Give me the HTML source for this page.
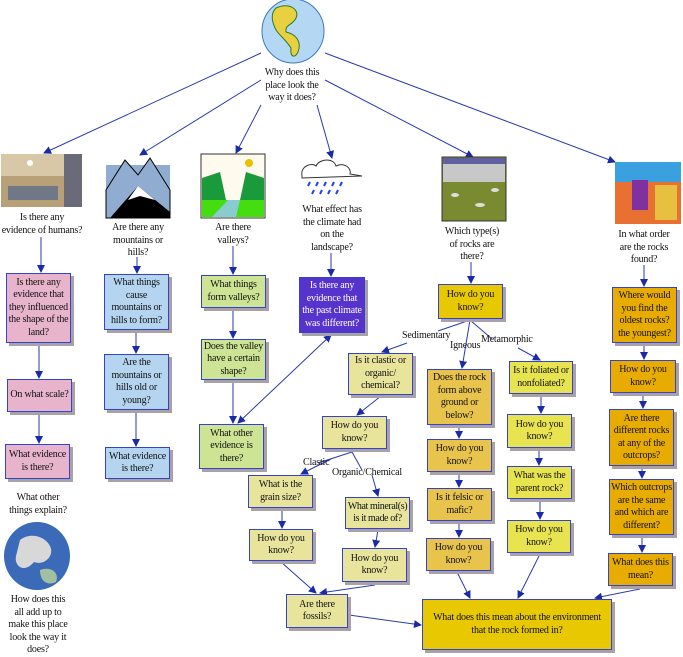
<!DOCTYPE html>
<html><head><meta charset="utf-8"><style>
body{margin:0;width:683px;height:654px;background:#fff;position:relative;overflow:hidden;font-family:"Liberation Serif",serif;font-size:10px;color:#111}
.b{position:absolute;box-sizing:border-box;border:1px solid #3344cc;box-shadow:3px 3px 0 #a9a0a8;display:flex;align-items:center;justify-content:center;text-align:center;line-height:12.5px;padding:0 1px;letter-spacing:-0.2px}
.t{position:absolute;text-align:center;line-height:12.5px;letter-spacing:-0.2px}
.pk{background:#e8b4cc}.bl{background:#b4d4f0}.gr{background:#cce494}.pu{background:#5533cc;color:#fff}
.y1{background:#e8c800}.py{background:#e8e49c}.ig{background:#e8c44c}.me{background:#e8e450}.or{background:#e8ac00}
svg{position:absolute;left:0;top:0}
</style></head><body>
<svg width="683" height="654">
<defs><marker id="a" markerWidth="8" markerHeight="8" refX="7" refY="4" orient="auto-start-reverse" markerUnits="userSpaceOnUse"><path d="M0,0 L8,4 L0,8 Z" fill="#1a2aa8"/></marker></defs>
<g stroke="#2a3ab0" stroke-width="1" fill="none" marker-end="url(#a)">
<line x1="261" y1="53" x2="44" y2="153"/>
<line x1="261" y1="80" x2="140" y2="155"/>
<line x1="261" y1="105" x2="236" y2="153"/>
<line x1="317" y1="105" x2="332" y2="158"/>
<line x1="325" y1="80" x2="473" y2="157"/>
<line x1="325" y1="53" x2="615" y2="162"/>
<line x1="41" y1="237" x2="41" y2="272"/>
<line x1="39" y1="344" x2="39" y2="378"/>
<line x1="39" y1="413" x2="39" y2="443"/>
<line x1="137" y1="257" x2="137" y2="273"/>
<line x1="136" y1="331" x2="136" y2="353"/>
<line x1="136" y1="411" x2="136" y2="446"/>
<line x1="233" y1="246" x2="233" y2="274"/>
<line x1="233" y1="309" x2="233" y2="338"/>
<line x1="233" y1="381" x2="233" y2="423"/>
<line x1="331" y1="253" x2="331" y2="276"/>
<line x1="471" y1="262" x2="471" y2="283"/>
<line x1="644" y1="265" x2="644" y2="286"/>
<line x1="644" y1="344" x2="644" y2="359"/>
<line x1="643" y1="394" x2="643" y2="408"/>
<line x1="642" y1="467" x2="642" y2="478"/>
<line x1="642" y1="536" x2="642" y2="552"/>
<line x1="459" y1="426" x2="459" y2="438"/>
<line x1="459" y1="473" x2="459" y2="487"/>
<line x1="459" y1="522" x2="459" y2="537"/>
<line x1="541" y1="394" x2="541" y2="413"/>
<line x1="539" y1="449" x2="539" y2="465"/>
<line x1="540" y1="500" x2="540" y2="519"/>
<line x1="407" y1="343" x2="382" y2="352"/>
<line x1="470" y1="320" x2="462" y2="368"/>
<line x1="518" y1="348" x2="540" y2="360"/>
<line x1="381" y1="396" x2="357" y2="415"/>
<line x1="331" y1="459" x2="301" y2="474"/>
<line x1="372" y1="475" x2="378" y2="496"/>
<line x1="282" y1="509" x2="282" y2="528"/>
<line x1="378" y1="530" x2="375" y2="547"/>
<line x1="281" y1="562" x2="316" y2="593"/>
<line x1="375" y1="585" x2="320" y2="593"/>
<line x1="349" y1="615" x2="421" y2="625"/>
<line x1="457" y1="572" x2="470" y2="598"/>
<line x1="540" y1="554" x2="518" y2="598"/>
<line x1="640" y1="589" x2="595" y2="598"/>
<line x1="238" y1="423" x2="331" y2="335" marker-start="url(#a)"/>
</g>
<g stroke="#2a3ab0" fill="none"><line x1="470" y1="320" x2="438" y2="331"/><line x1="470" y1="320" x2="492" y2="339"/><line x1="352" y1="452" x2="318" y2="463"/><line x1="352" y1="452" x2="362" y2="470"/></g>
<ellipse cx="293" cy="31" rx="31" ry="32" fill="#b4d8f4" stroke="#3a7ac0"/>
<path d="M276,8 C290,2 300,10 296,18 C292,26 285,24 286,32 C296,34 302,42 298,52 C295,58 290,58 291,48 C286,40 280,36 276,30 C272,22 270,14 276,8Z" fill="#e8d040" stroke="#2a7a2a"/>
<rect x="1" y="154" width="81" height="53" fill="#b8a078"/><rect x="1" y="154" width="81" height="22" fill="#d8c8a8"/><rect x="64" y="154" width="18" height="53" fill="#6a6a78"/><rect x="8" y="186" width="50" height="14" fill="#707888"/><circle cx="30" cy="163" r="3" fill="#fff"/>
<rect x="106" y="165" width="64" height="53" fill="#90acd0"/><path d="M106,218 L106,190 L125,160 L138,175 L150,158 L170,190 L170,218Z" fill="#90acd0" stroke="#000"/><path d="M110,218 L138,186 L170,212 L170,218Z" fill="#000"/><path d="M128,200 L138,186 L155,200 L140,196Z" fill="#fff"/>
<rect x="201" y="154" width="64" height="64" fill="#fffaee" stroke="#333"/><circle cx="249" cy="163" r="4" fill="#e8c000"/><path d="M202,178 L220,172 L226,200 L202,200Z" fill="#1a9a3a"/><path d="M264,178 L246,172 L240,200 L264,200Z" fill="#1a9a3a"/><rect x="202" y="200" width="62" height="17" fill="#44dd10"/><path d="M228,200 L240,200 L236,217 L212,217Z" fill="#88ccd0"/>
<path d="M302,176 C300,166 312,162 316,166 C320,158 334,158 336,166 C344,162 352,168 350,174 L362,176 L302,178Z" fill="#fff" stroke="#333"/>
<g stroke="#2244ee" stroke-width="2"><line x1="310" y1="182" x2="308" y2="186"/><line x1="318" y1="182" x2="316" y2="186"/><line x1="326" y1="182" x2="324" y2="186"/><line x1="334" y1="182" x2="332" y2="186"/><line x1="342" y1="182" x2="340" y2="186"/><line x1="314" y1="190" x2="312" y2="194"/><line x1="322" y1="190" x2="320" y2="194"/><line x1="330" y1="190" x2="328" y2="194"/><line x1="338" y1="190" x2="336" y2="194"/></g>
<rect x="442" y="157" width="64" height="64" fill="#7a8a30" stroke="#333"/><rect x="443" y="158" width="62" height="24" fill="#c8c8c8"/><rect x="443" y="158" width="62" height="6" fill="#6060a0"/>
<ellipse cx="455" cy="195" rx="4" ry="2" fill="#ddd"/><ellipse cx="480" cy="205" rx="5" ry="2" fill="#ddd"/><ellipse cx="495" cy="190" rx="4" ry="2" fill="#ddd"/>
<rect x="615" y="162" width="66" height="62" fill="#e87030"/><rect x="615" y="162" width="66" height="20" fill="#3aa0e0"/><rect x="632" y="180" width="16" height="30" fill="#8030a0"/><rect x="655" y="185" width="22" height="35" fill="#e8c040"/>
<ellipse cx="37" cy="556" rx="33" ry="34" fill="#3a6ab8"/><path d="M20,540 C30,532 45,536 50,546 C55,556 44,566 34,562 C24,574 14,566 16,556Z" fill="#d8d8d8"/><path d="M40,570 C50,566 60,572 56,582 C48,586 40,582 40,570Z" fill="#a0c0a0"/>
</svg>
<div class="t" style="left:252px;top:67px;width:80px">Why does this<br>place look the<br>way it does?</div>
<div class="t" style="left:0;top:212px;width:84px">Is there any<br>evidence of humans?</div>
<div class="t" style="left:100px;top:222px;width:76px">Are there any<br>mountains or<br>hills?</div>
<div class="t" style="left:195px;top:222px;width:76px">Are there<br>valleys?</div>
<div class="t" style="left:292px;top:204px;width:80px">What effect has<br>the climate had<br>on the<br>landscape?</div>
<div class="t" style="left:434px;top:226px;width:76px">Which type(s)<br>of rocks are<br>there?</div>
<div class="t" style="left:606px;top:229px;width:76px">In what order<br>are the rocks<br>found?</div>
<div class="t" style="left:0;top:492px;width:76px">What other<br>things explain?</div>
<div class="t" style="left:0;top:594px;width:76px">How does this<br>all add up to<br>make this place<br>look the way it<br>does?</div>
<div class="t" style="left:402px;top:330px">Sedimentary</div>
<div class="t" style="left:450px;top:340px">Igneous</div>
<div class="t" style="left:481px;top:334px">Metamorphic</div>
<div class="t" style="left:303px;top:457px">Clastic</div>
<div class="t" style="left:332px;top:467px">Organic/Chemical</div>

<div class="b pk" style="left:6px;top:273px;width:65px;height:70px">Is there any evidence that they influenced the shape of the land?</div>
<div class="b pk" style="left:7px;top:379px;width:65px;height:33px">On what scale?</div>
<div class="b pk" style="left:5px;top:444px;width:65px;height:35px">What evidence is there?</div>
<div class="b bl" style="left:104px;top:274px;width:65px;height:56px">What things cause mountains or hills to form?</div>
<div class="b bl" style="left:104px;top:354px;width:65px;height:56px">Are the mountains or hills old or young?</div>
<div class="b bl" style="left:105px;top:447px;width:65px;height:32px">What evidence is there?</div>
<div class="b gr" style="left:201px;top:275px;width:65px;height:33px">What things form valleys?</div>
<div class="b gr" style="left:201px;top:339px;width:65px;height:41px">Does the valley have a certain shape?</div>
<div class="b gr" style="left:199px;top:424px;width:65px;height:45px">What other evidence is there?</div>
<div class="b pu" style="left:299px;top:277px;width:66px;height:56px">Is there any evidence that the past climate was different?</div>
<div class="b y1" style="left:438px;top:284px;width:65px;height:35px">How do you know?</div>
<div class="b py" style="left:348px;top:353px;width:65px;height:42px">Is it clastic or organic/ chemical?</div>
<div class="b py" style="left:322px;top:416px;width:65px;height:33px">How do you know?</div>
<div class="b py" style="left:248px;top:475px;width:65px;height:33px">What is the grain size?</div>
<div class="b py" style="left:249px;top:529px;width:64px;height:32px">How do you know?</div>
<div class="b py" style="left:345px;top:497px;width:65px;height:32px;letter-spacing:-0.4px">What mineral(s)<br>is it made of?</div>
<div class="b py" style="left:342px;top:548px;width:65px;height:34px">How do you know?</div>
<div class="b py" style="left:286px;top:594px;width:62px;height:34px">Are there fossils?</div>
<div class="b ig" style="left:427px;top:369px;width:65px;height:56px">Does the rock form above ground or below?</div>
<div class="b ig" style="left:427px;top:439px;width:65px;height:33px">How do you know?</div>
<div class="b ig" style="left:427px;top:488px;width:65px;height:33px">Is it felsic or mafic?</div>
<div class="b ig" style="left:426px;top:538px;width:65px;height:33px">How do you know?</div>
<div class="b me" style="left:509px;top:361px;width:64px;height:33px">Is it foliated or nonfoliated?</div>
<div class="b me" style="left:507px;top:414px;width:65px;height:34px">How do you know?</div>
<div class="b me" style="left:507px;top:466px;width:65px;height:33px">What was the parent rock?</div>
<div class="b me" style="left:507px;top:520px;width:64px;height:33px">How do you know?</div>
<div class="b y1" style="left:422px;top:599px;width:190px;height:51px">What does this mean about the environment<br>that the rock formed in?</div>
<div class="b or" style="left:612px;top:287px;width:65px;height:56px">Where would you find the oldest rocks? the youngest?</div>
<div class="b or" style="left:610px;top:360px;width:66px;height:33px">How do you know?</div>
<div class="b or" style="left:609px;top:409px;width:65px;height:57px">Are there different rocks at any of the outcrops?</div>
<div class="b or" style="left:609px;top:479px;width:65px;height:56px">Which outcrops are the same and which are different?</div>
<div class="b or" style="left:608px;top:553px;width:65px;height:33px">What does this mean?</div>
</body></html>
